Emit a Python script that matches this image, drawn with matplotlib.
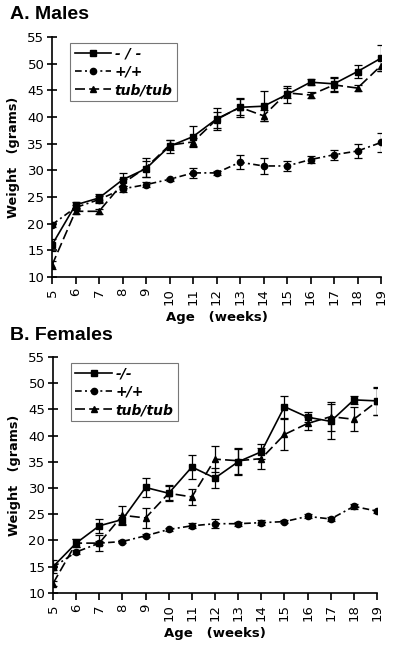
import numpy as np
import matplotlib.pyplot as plt
from matplotlib.lines import Line2D

plt.rcParams['font.family'] = ['DejaVu Sans']

weeks = list(range(5, 20))

# Males
m_ko = [16, 23.5, 24.8, 28.2, 30.3, 34.5, 36.3, 39.6, 41.8, 42, 44.2, 46.5, 46.2, 48.5, 51]
m_ko_err = [1.2, 0.5, 0.8, 1.2, 1.5, 1.2, 2, 2, 1.8, 2.8, 1.6, 0.6, 1.3, 1.2, 2.4]
m_wt = [19.8, 23, 24.5, 26.5, 27.3, 28.3, 29.5, 29.5, 31.5, 30.8, 30.8, 32, 32.9, 33.6, 35.2]
m_wt_err = [0.5, 0.4, 0.6, 0.6, 0.5, 0.3, 1, 0.3, 1.3, 1.5, 1, 0.6, 0.9, 1.3, 1.7]
m_tub = [12.2, 22.3, 22.3, 27.5, 30.5, 34.7, 35.3, 39.5, 41.8, 40.2, 44.5, 44.1, 46, 45.4, 49.6]
m_tub_err = [0.8, 0.5, 0.5, 0.8, 1.8, 1, 0.8, 1.5, 1.5, 1, 1, 0.6, 1.3, 0.6, 1]

# Females
f_ko = [15, 19.5, 22.8, 24, 30.1, 29, 34, 31.9, 35, 36.9, 45.5, 43.5, 42.7, 46.8, 46.6]
f_ko_err = [1.2, 0.8, 1.3, 0.8, 1.8, 1.5, 2.3, 1.9, 2.5, 1.4, 2.1, 1, 3.4, 0.8, 2.6]
f_wt = [14.9, 17.8, 19.5, 19.8, 20.9, 22.1, 22.8, 23.2, 23.2, 23.4, 23.6, 24.6, 24.1, 26.5, 25.6]
f_wt_err = [0.6, 0.4, 0.4, 0.3, 0.3, 0.3, 0.5, 0.9, 0.4, 0.5, 0.3, 0.4, 0.3, 0.5, 0.3]
f_tub = [11.8, 19.5, 19.5, 24.8, 24.3, 29, 28.3, 35.5, 35.2, 35.6, 40.2, 42.3, 43.6, 43.1, 46.5]
f_tub_err = [0.5, 0.7, 1.5, 1.8, 1.9, 1.3, 1.5, 2.5, 2.5, 2, 3, 1.2, 2.8, 2.3, 2.5]

ls_ko = '-'
ls_wt = (0, (4, 2, 1.2, 2))
ls_tub = (0, (6, 2.5))


def panel(ax, ko, ko_err, wt, wt_err, tub, tub_err, ko_label):
    kw = dict(color='black', lw=1.2, ms=4.5, capsize=3, elinewidth=0.9, capthick=0.9)
    ax.errorbar(weeks, ko, yerr=ko_err, fmt='s', linestyle=ls_ko, **kw)
    ax.errorbar(weeks, wt, yerr=wt_err, fmt='o', linestyle=ls_wt, **kw)
    ax.errorbar(weeks, tub, yerr=tub_err, fmt='^', linestyle=ls_tub, **kw)
    ax.set_xlim(5, 19)
    ax.set_ylim(10, 55)
    ax.set_xticks(weeks)
    ax.set_xticklabels([str(w) for w in weeks], rotation=90)
    ax.set_yticks(range(10, 56, 5))
    ax.spines['top'].set_visible(False)
    ax.spines['right'].set_visible(False)
    ax.spines['left'].set_linewidth(1.2)
    ax.spines['bottom'].set_linewidth(1.2)
    ax.tick_params(axis='x', direction='out', length=5, width=1.2, labelsize=9.5, pad=3)
    ax.tick_params(axis='y', direction='inout', length=7, width=1.2, labelsize=9.5, pad=2)
    ax.set_xlabel('Age   (weeks)', fontsize=9.5, fontweight='bold', labelpad=4)
    ax.set_ylabel('Weight   (grams)', fontsize=9.2, fontweight='bold', labelpad=5)
    handles = [
        Line2D([], [], color='black', lw=1.2, marker='s', ms=4.5, linestyle=ls_ko),
        Line2D([], [], color='black', lw=1.2, marker='o', ms=4.5, linestyle=ls_wt),
        Line2D([], [], color='black', lw=1.2, marker='^', ms=4.5, linestyle=ls_tub),
    ]
    leg = ax.legend(handles, [ko_label, '+/+', 'tub/tub'], loc='upper left',
                    bbox_to_anchor=(0.035, 1.005), frameon=True, fancybox=False,
                    edgecolor='#777777', framealpha=1,
                    prop={'weight': 'bold', 'style': 'italic', 'size': 10},
                    handlelength=2.6, borderpad=0.3, labelspacing=0.3, handletextpad=0.3)
    leg.get_frame().set_linewidth(0.8)


fig = plt.figure(figsize=(4, 6.47), dpi=100)
ax1 = fig.add_axes([0.13, 0.572, 0.8225, 0.371])
ax2 = fig.add_axes([0.1325, 0.0835, 0.81, 0.365])

panel(ax1, m_ko, m_ko_err, m_wt, m_wt_err, m_tub, m_tub_err, '- / -')
panel(ax2, f_ko, f_ko_err, f_wt, f_wt_err, f_tub, f_tub_err, '-/-')

fig.text(0.025, 0.978, 'A. Males', fontsize=14, fontweight='bold', va='center',
         family=['Liberation Sans', 'DejaVu Sans'])
fig.text(0.025, 0.482, 'B. Females', fontsize=14, fontweight='bold', va='center',
         family=['Liberation Sans', 'DejaVu Sans'])

fig.savefig('out.png', dpi=100)
